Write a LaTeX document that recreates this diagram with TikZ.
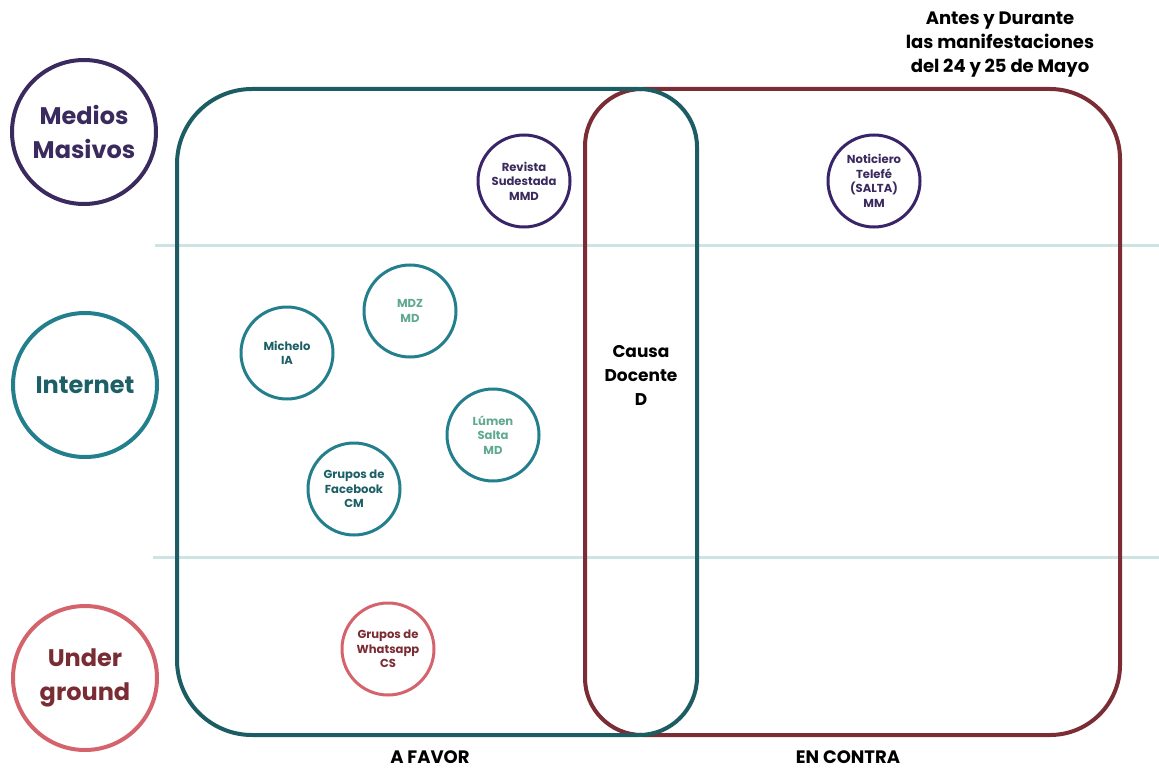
\documentclass[tikz,border=0pt]{standalone}
\usepackage{fontspec}
\setmainfont{Poppins}
\usepackage{xcolor}
\usepackage{tikz}

\definecolor{violeta}{HTML}{3B2A5E}
\definecolor{violetac}{HTML}{3A2469}
\definecolor{turquesa}{HTML}{237F8C}
\definecolor{turquesat}{HTML}{1D5F66}
\definecolor{verdeclaro}{HTML}{5FA892}
\definecolor{rosa}{HTML}{D4636C}
\definecolor{bordo}{HTML}{7A2C35}
\definecolor{favorc}{HTML}{1C5C63}
\definecolor{contrac}{HTML}{7B2D35}
\definecolor{franja}{HTML}{CDE4E4}

\tikzset{
  categoria/.style={circle, draw, line width=2pt, minimum size=72pt, inner sep=0pt,
    align=center, font=\bfseries\fontsize{12}{17}\selectfont},
  medio/.style={circle, draw, line width=1.5pt, minimum size=46pt, inner sep=0pt,
    align=center, font=\bfseries\fontsize{5.8}{7.3}\selectfont},
  rotulo/.style={align=center, font=\bfseries\fontsize{9}{12}\selectfont}
}

\begin{document}
\begin{tikzpicture}[x=0.5pt, y=0.5pt]
\useasboundingbox (0,0) rectangle (1159,767);

% franjas
\draw[franja, line width=1.5pt] (155,522)--(1159,522);
\draw[franja, line width=1.5pt] (153,210)--(1159,210);

% a favor / en contra
\draw[contrac, line width=2pt] (642,678)--(1050,678) arc[start angle=90, end angle=0, radius=35pt]
  --(1120,102) arc[start angle=0, end angle=-90, radius=35pt]
  --(642,32) arc[start angle=270, end angle=180, radius=28.5pt]
  --(585,621) arc[start angle=180, end angle=90, radius=28.5pt]--cycle;
\draw[favorc, line width=2pt] (252,678)--(639,678) arc[start angle=90, end angle=0, radius=29pt]
  --(697,90) arc[start angle=0, end angle=-90, radius=29pt]
  --(252,32) arc[start angle=270, end angle=180, radius=37.5pt]
  --(177,603) arc[start angle=180, end angle=90, radius=37.5pt]--cycle;

% categorias
\node[categoria, draw=violeta, text=violeta] (medios) at (84,635) {Medios\\Masivos};
\node[categoria, draw=turquesa, text=turquesat] (internet) at (85,382) {Internet};
\node[categoria, draw=rosa, text=bordo] (under) at (85,89) {Under\\ground};

% medios
\node[medio, draw=violetac, text=violeta] (sudestada) at (524,586) {Revista\\Sudestada\\MMD};
\node[medio, draw=violetac, text=violeta] (telefe) at (874,586) {Noticiero\\Telefé\\(SALTA)\\MM};
\node[medio, draw=turquesa, text=verdeclaro] (mdz) at (410,456) {MDZ\\MD};
\node[medio, draw=turquesa, text=turquesat] (michelo) at (287,414) {Michelo\\IA};
\node[medio, draw=turquesa, text=verdeclaro] (lumen) at (493,332) {Lúmen\\Salta\\MD};
\node[medio, draw=turquesa, text=turquesat] (facebook) at (354,278) {Grupos de\\Facebook\\CM};
\node[medio, draw=rosa, text=bordo] (whatsapp) at (388,118) {Grupos de\\Whatsapp\\CS};

% textos
\node[rotulo, font=\bfseries\fontsize{8.5}{12}\selectfont] (causa) at (641,392) {Causa\\Docente\\D};
\node[rotulo] (titulo) at (1000,722) {Antes y Durante\\las manifestaciones\\del 24 y 25 de Mayo};
\node[rotulo] (favor) at (430,10) {A FAVOR};
\node[rotulo] (contra) at (848,10) {EN CONTRA};
\end{tikzpicture}
\end{document}
